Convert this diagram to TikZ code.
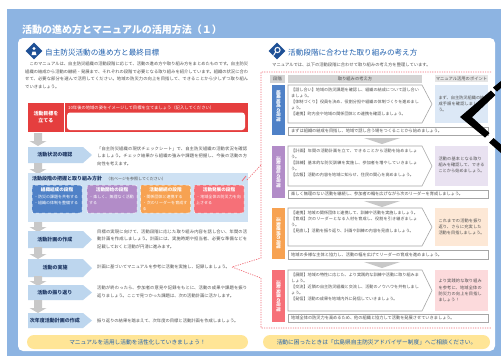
\documentclass[tikz,border=0pt]{standalone}
\usepackage{fontspec}
\setmainfont{Noto Sans CJK JP}
\XeTeXlinebreaklocale "ja"
\XeTeXlinebreakskip=0pt plus 0.5pt
\usetikzlibrary{shapes.geometric}
\definecolor{frameblue}{RGB}{141,180,226}
\definecolor{hdrblue}{RGB}{31,95,173}
\definecolor{iconblue}{RGB}{30,80,150}
\definecolor{txtgray}{RGB}{80,80,80}
\definecolor{navy}{RGB}{31,56,100}
\definecolor{redbox}{RGB}{229,62,62}
\definecolor{stepblue}{RGB}{189,214,238}
\definecolor{secblue}{RGB}{206,225,243}
\definecolor{cA}{RGB}{79,129,199}
\definecolor{cB}{RGB}{178,140,200}
\definecolor{cC}{RGB}{247,162,82}
\definecolor{cD}{RGB}{246,112,120}
\definecolor{lA}{RGB}{220,232,246}
\definecolor{lB}{RGB}{233,226,241}
\definecolor{lC}{RGB}{253,232,214}
\definecolor{lD}{RGB}{252,218,220}
\definecolor{arrgray}{RGB}{200,200,200}
\definecolor{cellgray}{RGB}{212,212,212}
\definecolor{pillyel}{RGB}{255,229,150}
\definecolor{pinkdot}{RGB}{240,110,120}
\newcommand\fsz[2]{\fontsize{#1}{#2}\selectfont}
\newcommand\garrow[3]{%
  \fill[arrgray] ({#1-4},#2) -- ({#1+4},#2) -- ({#1+4},{#3-5}) -- ({#1+8.5},{#3-5})
    -- (#1,#3) -- ({#1-8.5},{#3-5}) -- ({#1-4},{#3-5}) -- cycle;}
\newcommand\stepshape[2]{%
  \fill[stepblue] (28,#1) -- (83,#1) -- (92,{(#1+#2)/2}) -- (83,#2) -- (28,#2) -- cycle;}
\newcommand\stageshape[6]{%
  \fill[#1] (272,#3) rectangle (285,#6);
  \draw[gray!70, line width=0.6pt, fill=white] (288,#3) -- (422,#3) -- (432,{(#3+#4)/2}) -- (422,#4) -- (288,#4) -- cycle;
  \fill[#2] (435,#3) rectangle (488,#4);
  \draw[gray!70, line width=0.6pt, fill=white] (288,#5) rectangle (488,#6);}
\newcommand\chev[1]{\fill[arrgray] (364,#1) -- (400,#1) -- (382,{#1+6}) -- cycle;}
\begin{document}
\begin{tikzpicture}[x=1pt,y=-1pt,
  titletxt/.style={anchor=west, inner sep=0pt, text=white, font=\bfseries\fsz{10}{12}},
  hdr/.style={anchor=west, inner sep=0pt, text=hdrblue, font=\fsz{7.6}{9}},
  para/.style={anchor=north west, inner sep=0pt, text=txtgray, align=justify, font=\fsz{4.3}{7.4}},
  steplbl/.style={inner sep=0pt, text=navy, font=\bfseries\fsz{5}{6}},
  steptxt/.style={anchor=north west, inner sep=0pt, text=txtgray, align=justify, text width=150pt, font=\fsz{4.3}{7.4}},
  minibox/.style={draw=white, dashed, line width=0.5pt, rounded corners=2pt, minimum width=50pt, minimum height=28pt, inner sep=0pt},
  minititle/.style={inner sep=0pt, text=white, font=\bfseries\fsz{4.6}{5.5}},
  minitxt/.style={anchor=north west, inner sep=0pt, text=white, align=left, text width=46pt, font=\fsz{4}{6}},
  vlabel/.style={rotate=-90, inner sep=0pt, text=white, font=\bfseries\fsz{4.5}{5}},
  ctxt/.style={anchor=north west, inner sep=0pt, text=txtgray, align=left, text width=128pt, font=\fsz{4.1}{6}},
  ptxt/.style={inner sep=0pt, text=txtgray, align=left, text width=46pt, font=\fsz{4.2}{6.2}},
  stxt/.style={anchor=west, inner sep=0pt, text=txtgray, font=\fsz{4.2}{5}},
  pilltxt/.style={inner sep=0pt, text=hdrblue, font=\fsz{5.7}{7}},
  dotline/.style={draw=pinkdot, line width=0.7pt, dash pattern=on 1.2pt off 1.2pt}
]
\useasboundingbox (0,0) rectangle (501,357);
\fill[white] (0,0) rectangle (501,357);
\fill[frameblue] (7,9) rectangle (501,356);
\fill[white, rounded corners=5pt] (18,38) rectangle (495,351);
\node[titletxt] (title) at (22,30) {活動の進め方とマニュアルの活用方法（１）};

% left header
\node[diamond, fill=iconblue, minimum size=17pt, inner sep=0pt] (iconL) at (34,51) {};
\fill[white] (34,48.5) circle (1.6);
\fill[white] (31.5,55) -- (32.5,51.5) -- (35.5,51.5) -- (36.5,55) -- cycle;
\node[hdr] (hdrL) at (45,53) {自主防災活動の進め方と最終目標};
\node[para, text width=223pt] (intro) at (25,62) {　このマニュアルは、自主防災組織の活動段階に応じて、活動の進め方や取り組み方をまとめたものです。自主防災組織の結成から活動の継続・発展まで、それぞれの段階で必要となる取り組みを紹介しています。組織の状況に合わせて、必要な部分を選んで活用してください。地域の防災力の向上を目指して、できることから少しずつ取り組んでいきましょう。};

% red goal box
\fill[redbox] (28,103) rectangle (248,132);
\draw[white, line width=0.5pt] (64,103) -- (64,132);
\node[inner sep=0pt, text=white, align=center, font=\bfseries\fsz{5}{7}] (goal) at (46,117) {活動目標を\\立てる};
\node[anchor=west, inner sep=0pt, text=white, font=\fsz{4.3}{5}] (goalhint) at (68,107.5) {10年後の地域の姿をイメージして目標を立てましょう（記入してください）};
\fill[white, rounded corners=3pt] (67,112.5) rectangle (245,130);

% flow
\garrow{38}{133}{146}
\stepshape{147}{163}
\node[steplbl] (s1) at (55,155) {活動状況の確認};
\node[steptxt] (s1t) at (97,146.5) {「自主防災組織の現状チェックシート」で、自主防災組織の活動状況を確認しましょう。チェック結果から組織の強みや課題を把握し、今後の活動の方向性を考えます。};
\garrow{38}{163}{174}
\fill[secblue] (28,173) rectangle (248,222);
\node[anchor=west, inner sep=0pt, text=navy, font=\bfseries\fsz{5}{6}] (sec) at (32,178.5) {活動段階の把握と取り組み方針\hspace{4pt}{\mdseries\color{txtgray}\fsz{4}{5}（右ページを参照してください）}};
\draw[pinkdot, line width=0.8pt] (242,181) -- (246,176);
\node[minibox, fill=cA] (bA) at (57,199) {};
\node[minibox, fill=cB] (bB) at (112,199) {};
\node[minibox, fill=cC] (bC) at (165.5,199) {};
\node[minibox, fill=cD] (bD) at (219,199) {};
\node[minititle] (bAt) at (57,190) {組織結成の段階};
\node[minititle] (bBt) at (112,190) {活動開始の段階};
\node[minititle] (bCt) at (165.5,190) {活動継続の段階};
\node[minititle] (bDt) at (219,190) {活動発展の段階};
\node[minitxt] (bAx) at (34,194.5) {・防災の課題を共有する\\・組織の体制を整備する};
\node[minitxt] (bBx) at (89,194.5) {・楽しく、無理なく活動する};
\node[minitxt] (bCx) at (142.5,194.5) {・関係団体と連携する\\・次のリーダーを育成する};
\node[minitxt] (bDx) at (196,194.5) {・地域全体の防災力を向上させる};
\garrow{38}{222}{232}
\stepshape{231}{248}
\node[steplbl] (s2) at (55,239.5) {活動計画の作成};
\node[steptxt] (s2t) at (97,229.5) {目標の実現に向けて、活動段階に応じた取り組み内容を話し合い、年間の活動計画を作成しましょう。計画には、実施時期や担当者、必要な準備などを記載しておくと活動が円滑に進みます。};
\garrow{38}{247}{259}
\stepshape{259}{277}
\node[steplbl] (s3) at (55,268) {活動の実施};
\node[anchor=west, inner sep=0pt, text=txtgray, font=\fsz{4.3}{5}] (s3t) at (97,267) {計画に基づいてマニュアルを参考に活動を実施し、記録しましょう。};
\garrow{38}{276}{286}
\stepshape{285}{300}
\node[steplbl] (s4) at (55,292.5) {活動の振り返り};
\node[steptxt] (s4t) at (97,286) {活動が終わったら、参加者の意見や記録をもとに、活動の成果や課題を振り返りましょう。ここで見つかった課題は、次の活動計画に活かします。};
\garrow{38}{300}{313}
\stepshape{313}{328}
\node[steplbl] (s5) at (55,320.5) {次年度活動計画の作成};
\node[anchor=west, inner sep=0pt, text=txtgray, font=\fsz{4.3}{5}] (s5t) at (97,320.5) {振り返りの結果を踏まえて、次年度の目標と活動計画を作成しましょう。};
\fill[pillyel, rounded corners=7pt] (27,335) rectangle (248,349);
\node[pilltxt] (pillL) at (137.5,342) {マニュアルを活用し活動を活性化していきましょう！};

% right header
\node[diamond, fill=iconblue, minimum size=17pt, inner sep=0pt] (iconR) at (277,51) {};
\draw[white, line width=1pt] (277.5,50) circle (2.6);
\draw[white, line width=1pt] (275.6,52) -- (273.5,55.5);
\node[hdr] (hdrR) at (288,53) {活動段階に合わせた取り組みの考え方};
\node[anchor=west, inner sep=0pt, text=txtgray, font=\fsz{4.3}{5}] (introR) at (272,65) {マニュアルでは、以下の活動段階に合わせて取り組みの考え方を整理しています。};

% table header
\fill[cellgray] (270,75) rectangle (285,83);
\fill[cellgray] (288,75) rectangle (422,83);
\fill[cellgray!60] (435,75) rectangle (488,82);
\node[inner sep=0pt, text=txtgray, font=\fsz{4.3}{5}] (thA) at (277.5,79) {段階};
\node[inner sep=0pt, text=txtgray, font=\fsz{4.3}{5}] (thB) at (355,79) {取り組みの考え方};
\node[inner sep=0pt, text=txtgray, font=\fsz{4.3}{5}] (thC) at (461.5,78.5) {マニュアル活用のポイント};

% stage 1
\stageshape{cA}{lA}{85}{123}{127}{135}
\node[vlabel] (v1) at (278.5,106) {組織結成の段階};
\node[ctxt] (c1) at (291,88) {【話し合い】地域の防災課題を確認し、組織の結成について話し合いましょう。\\【体制づくり】役員を決め、役割分担や組織の体制づくりを進めましょう。\\【連携】町内会や地域の関係団体との連携を確認しましょう。};
\node[ptxt] (p1) at (461.5,104) {まず、自主防災組織の結成手順を確認しましょう。};
\node[stxt] (m1) at (291,131) {まずは組織の結成を目指し、地域で話し合う場をつくることから始めましょう。};
\chev{138}
% stage 2
\stageshape{cB}{lB}{146}{186}{190}{198}
\node[vlabel] (v2) at (278.5,172) {活動開始の段階};
\node[ctxt] (c2) at (291,149) {【計画】年間の活動計画を立て、できることから活動を始めましょう。\\【訓練】基本的な防災訓練を実施し、参加者を増やしていきましょう。\\【広報】活動の内容を地域に知らせ、住民の関心を高めましょう。};
\node[ptxt] (p2) at (461.5,165) {活動の基本となる取り組みを確認して、できることから始めましょう。};
\node[stxt] (m2) at (291,194) {楽しく無理のない活動を継続し、参加者の輪を広げながら次のリーダーを育成しましょう。};
\chev{201}
% stage 3
\stageshape{cC}{lC}{208}{246}{250}{259}
\node[vlabel] (v3) at (278.5,233.5) {活動継続の段階};
\node[ctxt] (c3) at (291,211) {【連携】地域の関係団体と連携して、訓練や活動を実施しましょう。\\【育成】次のリーダーとなる人材を育成し、役割を引き継ぎましょう。\\【見直し】活動を振り返り、計画や訓練の内容を見直しましょう。};
\node[ptxt] (p3) at (461.5,227) {これまでの活動を振り返り、さらに充実した活動を目指しましょう。};
\node[stxt] (m3) at (291,254.5) {地域の多様な主体と協力し、活動の幅を広げてリーダーの育成を進めましょう。};
\chev{262}
% stage 4
\stageshape{cD}{lD}{270}{311}{314}{322}
\node[vlabel] (v4) at (278.5,296) {活動発展の段階};
\node[ctxt] (c4) at (291,273) {【展開】地域の特性に応じた、より実践的な訓練や活動に取り組みましょう。\\【交流】近隣の自主防災組織と交流し、活動のノウハウを共有しましょう。\\【発信】活動の成果を地域内外に発信していきましょう。};
\node[ptxt] (p4) at (461.5,290.5) {より実践的な取り組みを参考に、地域全体の防災力の向上を目指しましょう！};
\node[stxt] (m4) at (291,318) {地域全体の防災力を高めるため、他の組織と協力して活動を発展させていきましょう。};

% dotted callout
\coordinate (dA) at (491,72);
\coordinate (dB) at (261,72);
\coordinate (dC) at (261,258);
\coordinate (dD) at (261,278);
\coordinate (dE) at (261,328);
\coordinate (dF) at (491,328);
\coordinate (dP) at (232,267);
\draw[dotline] (dA) -- (dB) -- (dC) -- (dP) -- (dD) -- (dE) -- (dF);
\draw[dotline] (247,180) -- (261,165);

\fill[pillyel, rounded corners=7pt] (263,335) rectangle (490,349);
\node[pilltxt] (pillR) at (376.5,342) {活動に困ったときは「広島県自主防災アドバイザー制度」へご相談ください。};

% black chevron (filled strokes)
\fill[black] (501,81) -- (501,88) -- (497,91.5) -- (493,87.5) -- cycle;
\fill[black] (491,90.5) -- (495.5,95) -- (472,117.2) -- (489.5,133) -- (485,137.5) -- (460,117) -- cycle;
\fill[black] (493.5,138) -- (501,144.5) -- (501,153) -- (489,142.5) -- cycle;
\end{tikzpicture}
\end{document}
